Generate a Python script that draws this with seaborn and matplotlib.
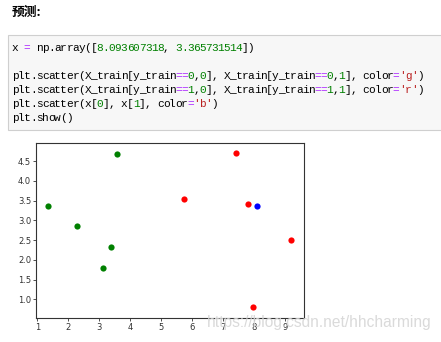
import matplotlib
matplotlib.use("Agg")
import matplotlib.pyplot as plt
from matplotlib.patches import Rectangle
import seaborn as sns
import pandas as pd

# ---- data ----
x0_class0 = [3.393533211, 3.110073483, 1.343808831, 3.582294042, 2.280362439]
x1_class0 = [2.331273381, 1.781539638, 3.368360954, 4.679179110, 2.866990263]
x0_class1 = [7.423436942, 5.745051997, 9.172168622, 7.792783481, 7.939820817]
x1_class1 = [4.696522875, 3.533989803, 2.511101045, 3.424088941, 0.791637231]
new_point = [8.093607318, 3.365731514]
x_ticks = [1, 2, 3, 4, 5, 6, 7, 8, 9]
y_ticks = [1.0, 1.5, 2.0, 2.5, 3.0, 3.5, 4.0, 4.5]

W, H, DPI = 441, 342, 100
fig = plt.figure(figsize=(W / DPI, H / DPI), dpi=DPI)
fig.patch.set_facecolor("white")

def fx(px):
    return px / W

def fy(py):
    return 1 - py / H

# title
fig.text(fx(12), fy(12), "预测:", fontsize=9.2, fontweight="bold",
         family=["Noto Sans CJK SC", "DejaVu Sans"], va="center", ha="left")

# code box
fig.patches.append(Rectangle((fx(8), fy(130)), fx(445) - fx(8), fy(35) - fy(130),
                             transform=fig.transFigure, facecolor="#f7f7f7",
                             edgecolor="#cfcfcf", linewidth=0.8, zorder=0))

K, P, G, R = "#000000", "#aa22ff", "#008000", "#ba2121"
code_lines = [
    (48, [("x ", K), ("=", P), (" np.array([", K), ("8.093607318", G), (", ", K),
          ("3.365731514", G), ("])", K)]),
    (76, [("plt.scatter(X_train[y_train", K), ("==", P), ("0", G), (",", K), ("0", G),
          ("], X_train[y_train", K), ("==", P), ("0", G), (",", K), ("1", G),
          ("], color", K), ("=", P), ("'g'", R), (")", K)]),
    (90, [("plt.scatter(X_train[y_train", K), ("==", P), ("1", G), (",", K), ("0", G),
          ("], X_train[y_train", K), ("==", P), ("1", G), (",", K), ("1", G),
          ("], color", K), ("=", P), ("'r'", R), (")", K)]),
    (104, [("plt.scatter(x[", K), ("0", G), ("], x[", K), ("1", G), ("], color", K),
           ("=", P), ("'b'", R), (")", K)]),
    (118, [("plt.show()", K)]),
]
CW = 6.05
for ypx, segs in code_lines:
    col = 0
    for s, c in segs:
        for ch in s:
            if ch != " ":
                fig.text(fx(12 + col * CW + CW / 2), fy(ypx), ch, color=c, fontsize=8.0,
                         family="Liberation Mono", va="center", ha="center")
            col += 1

# chart
ax = fig.add_axes([fx(36), fy(318), fx(304) - fx(36), fy(143) - fy(318)])
df0 = pd.DataFrame({"a": x0_class0, "b": x1_class0})
df1 = pd.DataFrame({"a": x0_class1, "b": x1_class1})
dfn = pd.DataFrame({"a": [new_point[0]], "b": [new_point[1]]})
sns.scatterplot(data=df0, x="a", y="b", color="#008000", s=20, linewidth=0, ax=ax)
sns.scatterplot(data=df1, x="a", y="b", color="#ff0000", s=20, linewidth=0, ax=ax)
sns.scatterplot(data=dfn, x="a", y="b", color="#0000ff", s=20, linewidth=0, ax=ax)
ax.set_xlim(0.96, 9.6)
ax.set_ylim(0.525, 4.96)
ax.set_xticks(x_ticks)
ax.set_yticks(y_ticks)
ax.set_xticklabels([str(v) for v in x_ticks])
ax.set_yticklabels([f"{v:.1f}" for v in y_ticks])
ax.set_xlabel("")
ax.set_ylabel("")
ax.tick_params(labelsize=6.0, length=2, width=0.6, colors="#333333", pad=1.5)
for sp in ax.spines.values():
    sp.set_linewidth(0.8)
    sp.set_color("#333333")

# watermark
fig.text(fx(432), fy(323), "https://blog.csdn.net/hhcharming", fontsize=11.2,
         family="Liberation Sans", color="#d6d6d6", va="center", ha="right", alpha=0.9)

fig.savefig("out.png", dpi=DPI)
